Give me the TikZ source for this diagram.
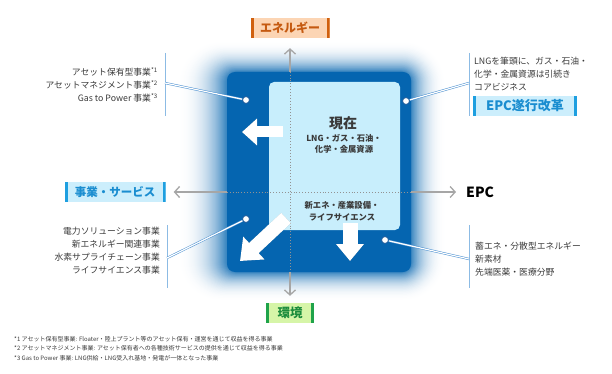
\documentclass[tikz,border=0pt]{standalone}
\usepackage{fontspec}
\setmainfont{Noto Sans CJK JP}
\usepackage{tikz}
\usetikzlibrary{arrows.meta,positioning,calc}
\definecolor{coreblue}{HTML}{0565B0}
\definecolor{nowfill}{HTML}{C8EEFC}
\definecolor{axisgray}{HTML}{A6A6A6}
\definecolor{txtgray}{HTML}{3A3A3A}
\definecolor{barblue}{HTML}{8CBBE4}
\definecolor{leadblue}{HTML}{4A8FD0}
\definecolor{pinblue}{HTML}{1F5F9F}
\definecolor{orfill}{HTML}{FCD5B4}
\definecolor{orbar}{HTML}{D0600E}
\definecolor{ortext}{HTML}{C55A11}
\definecolor{blfill}{HTML}{CCEEFC}
\definecolor{blbar}{HTML}{1E9FE0}
\definecolor{bltext}{HTML}{1A8DD0}
\definecolor{grfill}{HTML}{D6F5A8}
\definecolor{grbar}{HTML}{1FA34A}
\definecolor{grtext}{HTML}{1C8C3C}
\tikzset{
  tag/.style n args={3}{fill=#1, text=#3, font=\bfseries\fontsize{12}{14}\selectfont,
    inner sep=0pt, minimum height=20pt,
    path picture={
      \fill[#2] (path picture bounding box.north west) rectangle ([xshift=3pt]path picture bounding box.south west);
      \fill[#2] (path picture bounding box.north east) rectangle ([xshift=-3pt]path picture bounding box.south east);}},
  sidetext/.style={font=\fontsize{8.8}{13}\selectfont, text=txtgray, inner sep=0pt},
  inbold/.style={font=\bfseries\fontsize{8.3}{11.5}\selectfont, text=txtgray, align=center, inner sep=0pt},
  sidebar/.style={draw=barblue, line width=0.8pt},
  leader/.style={draw=leadblue, line width=0.5pt, double=white, double distance=1.2pt},
  pin/.style={circle, draw=pinblue, fill=white, line width=0.9pt, minimum size=7pt, inner sep=0pt},
  axisline/.style={draw=axisgray, line width=1.3pt, -{Straight Barb[length=5pt,width=11pt]}},
  axisdot/.style={draw=gray!85, line width=0.9pt, dotted},
  bigarrow/.style={draw=white, line width=#1},
  shadowarrow/.style={draw=black, opacity=0.25, line width=#1}}

\begin{document}
\begin{tikzpicture}[x=1pt, y=-1pt]
  \useasboundingbox (0,0) rectangle (612,374);
  % glow behind the core square
  \foreach \i in {0,...,50}{
    \pgfmathsetmacro\t{\i/50}
    \pgfmathsetmacro\pct{82*\t^2.4}
    \pgfmathsetmacro\rc{44-34*\t}
    \fill[coreblue!\pct!white, rounded corners=\rc pt] ({176+51*\t},{40+32*\t}) rectangle ({447-36*\t},{302-30*\t});
  }
  \node[fill=coreblue, rounded corners=8pt, minimum width=184pt, minimum height=200pt] (core) at (319,172) {};
  \node[fill=nowfill, rounded corners=5pt, minimum width=131pt, minimum height=148pt] (now) at (334.5,156) {};

  % axis labels
  \node[tag={orfill}{orbar}{ortext}, minimum width=79pt] (energy) at (290,28) {エネルギー};
  \node[tag={grfill}{grbar}{grtext}, minimum width=48pt, font=\bfseries\fontsize{12.5}{14}\selectfont] (env) at (290,313) {環境};
  \node[tag={blfill}{blbar}{bltext}, minimum width=101pt, font=\bfseries\fontsize{11.5}{14}\selectfont] (service) at (115,192) {事業・サービス};
  \node[font=\bfseries\fontsize{14}{16}\selectfont, anchor=west, inner sep=0pt] (epc) at (466,192) {EPC};
  \node[tag={blfill}{blbar}{bltext}, minimum width=104pt, font=\bfseries\fontsize{13}{14}\selectfont] (epcreform) at (525,106) {EPC遂行改革};

  % axes
  \draw[axisdot] (energy.south |- core.north) -- (env.north |- core.south);
  \draw[axisdot] (core.west |- service.east) -- (core.east |- service.east);
  \draw[axisline, shorten >=10pt] (energy.south |- core.north) -- (energy.south);
  \draw[axisline, shorten >=7pt] (env.north |- core.south) -- (env.north);
  \draw[axisline, shorten >=8pt] (core.west |- service.east) -- (service.east);
  \draw[axisline, shorten >=10pt] (core.east |- epc.west) -- (epc.west);

  % white arrows
  \coordinate (leftFrom) at (283,132); \coordinate (leftTo) at (242,132);
  \coordinate (downFrom) at (350,223); \coordinate (downTo) at (350,261);
  \coordinate (diagFrom) at (286,218); \coordinate (diagTo) at (240,261);
  \begin{scope}[shift={(1.5,1.5)}]
    \draw[shadowarrow=11pt, -{Triangle[length=15pt,width=26pt]}] (leftFrom) -- (leftTo);
    \draw[shadowarrow=15pt, -{Triangle[length=17pt,width=27pt]}] (downFrom) -- (downTo);
    \draw[shadowarrow=14pt, -{Triangle[length=19pt,width=30pt]}] (diagFrom) -- (diagTo);
  \end{scope}
  \draw[bigarrow=11pt, -{Triangle[length=15pt,width=26pt]}] (leftFrom) -- (leftTo);
  \draw[bigarrow=15pt, -{Triangle[length=17pt,width=27pt]}] (downFrom) -- (downTo);
  \draw[bigarrow=14pt, -{Triangle[length=19pt,width=30pt]}] (diagFrom) -- (diagTo);

  % texts in the core
  \node[font=\bfseries\fontsize{14}{16}\selectfont, text=txtgray, inner sep=0pt] (nowlbl) at (343,123) {現在};
  \node[inbold] (nowitems) at (344,144) {LNG・ガス・石油・\\化学・金属資源};
  \node[inbold] (newitems) at (342,211) {新エネ・産業設備・\\ライフサイエンス};

  % side notes with leaders
  \node[sidetext, align=right, anchor=east] (assetTxt) at (158,85)
    {アセット保有型事業\textsuperscript{*1}\\アセットマネジメント事業\textsuperscript{*2}\\Gas to Power 事業\textsuperscript{*3}};
  \node[sidetext, align=left, anchor=west] (lngTxt) at (474,74)
    {LNGを筆頭に、ガス・石油・\\化学・金属資源は引続き\\コアビジネス};
  \node[sidetext, align=right, anchor=east] (powerTxt) at (160,251)
    {電力ソリューション事業\\新エネルギー関連事業\\水素サプライチェーン事業\\ライフサイエンス事業};
  \node[sidetext, align=left, anchor=west] (newTxt) at (475,259)
    {蓄エネ・分散型エネルギー\\新素材\\先端医薬・医療分野};

  \coordinate (tlTop) at (165,53); \coordinate (tlBot) at (165,116); \coordinate (tlHook) at (165,83);
  \coordinate (trTop) at (469,53); \coordinate (trBot) at (469,116); \coordinate (trHook) at (469,83);
  \coordinate (blTop) at (167,225); \coordinate (blBot) at (167,288); \coordinate (blHook) at (167,258);
  \coordinate (brTop) at (469,225); \coordinate (brBot) at (469,288); \coordinate (brHook) at (469,259);
  \draw[sidebar] (tlTop) -- (tlBot); \draw[sidebar] (trTop) -- (trBot);
  \draw[sidebar] (blTop) -- (blBot); \draw[sidebar] (brTop) -- (brBot);

  \node[pin] (pinTL) at (246,100) {};
  \node[pin] (pinTR) at (406,101) {};
  \node[pin] (pinBL) at (246,219) {};
  \node[pin] (pinBR) at (385,240) {};
  \draw[leader] (tlHook) -- (pinTL); \draw[leader] (trHook) -- (pinTR);
  \draw[leader] (blHook) -- (pinBL); \draw[leader] (brHook) -- (pinBR);

  % footnotes
  \node[anchor=north west, align=left, inner sep=0pt, text=txtgray, font=\fontsize{6}{9.5}\selectfont] (notes) at (14,336)
    {*1 アセット保有型事業: Floater・陸上プラント等のアセット保有・運営を通じて収益を得る事業\\
     *2 アセットマネジメント事業: アセット保有者への各種技術サービスの提供を通じて収益を得る事業\\
     *3 Gas to Power 事業: LNG供給・LNG受入れ基地・発電が一体となった事業};
\end{tikzpicture}
\end{document}
